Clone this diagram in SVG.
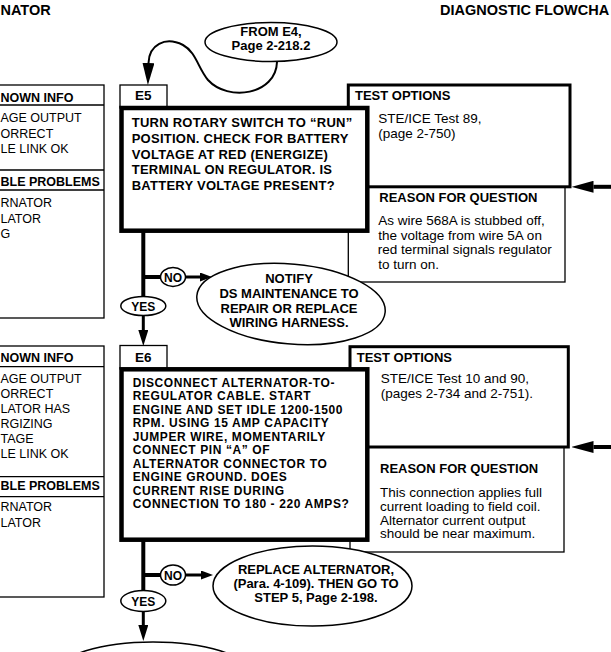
<svg xmlns="http://www.w3.org/2000/svg" width="611" height="652" viewBox="0 0 611 652">
<style>
text{font-family:"Liberation Sans",Arial,Helvetica,sans-serif;fill:#000}
.b{font-weight:bold;font-size:13px}
.q{font-weight:bold;font-size:13px;letter-spacing:0.25px}
.s{font-weight:bold;font-size:12px;letter-spacing:0.6px}
.r{font-size:13.5px}
.lb{font-weight:bold;font-size:12.5px}
.lr{font-size:12.5px}
.h{font-weight:bold;font-size:14.5px}
.c{text-anchor:middle}
.thin{fill:#fff;stroke:#000;stroke-width:1.3}
.med{fill:#fff;stroke:#000;stroke-width:3}
.thick{fill:#fff;stroke:#000;stroke-width:4.5}
.ln{fill:none;stroke:#000;stroke-width:1.3}
.ov{fill:#fff;stroke:#000;stroke-width:1.5}
.w4{fill:none;stroke:#000;stroke-width:4}
.w3{fill:none;stroke:#000;stroke-width:3}
.w2{fill:none;stroke:#000;stroke-width:2}
</style>
<defs>
<marker id="big" markerUnits="userSpaceOnUse" viewBox="0 0 22 12" refX="0" refY="6" markerWidth="22" markerHeight="12" orient="auto"><path d="M0,0 L22,6 L0,12 z"/></marker>
<marker id="mid" markerUnits="userSpaceOnUse" viewBox="0 0 16 10" refX="0" refY="5" markerWidth="16" markerHeight="10" orient="auto"><path d="M0,0 L16,5 L0,10 z"/></marker>
<marker id="sml" markerUnits="userSpaceOnUse" viewBox="0 0 12 9" refX="0" refY="4.5" markerWidth="12" markerHeight="9" orient="auto"><path d="M0,0 L12,4.5 L0,9 z"/></marker>
</defs>
<rect x="0" y="0" width="611" height="652" fill="#fff"/>

<g id="header">
<text class="h" x="0.5" y="15">NATOR</text>
<text class="h" x="440" y="15">DIAGNOSTIC FLOWCHA</text>
</g>

<g id="connectors">
<path class="w2" d="M277,62 C276,95 228,102 208,80 C198,68 196,52 183,45 C165,36 149,45 148.5,63" marker-end="url(#big)"/>
<path class="w4" d="M143.3,231 V297"/>
<path class="w3" d="M143.3,315 V330" marker-end="url(#mid)"/>
<path class="w4" d="M143.3,277 H161"/>
<path class="w3" d="M185,277 H200" marker-end="url(#sml)"/>
<path class="w4" d="M611,186.8 H593.5" marker-end="url(#big)"/>
<path class="w4" d="M611,447 H593.5" marker-end="url(#big)"/>
<path class="w4" d="M143.3,540 V591"/>
<path class="w3" d="M143.3,611 V625" marker-end="url(#mid)"/>
<path class="w4" d="M143.3,575 H161"/>
<path class="w3" d="M185,575 H201" marker-end="url(#sml)"/>
</g>

<g id="from-e4">
<ellipse class="ov" cx="271" cy="42" rx="66" ry="19.5"/>
<text class="b c" x="271" y="35.5">FROM E4,</text>
<text class="b c" x="271" y="49.5">Page 2-218.2</text>
</g>

<g id="known-info-1">
<rect class="thin" x="-5" y="85" width="109" height="233"/>
<path class="ln" d="M-5,105 H104 M-5,170 H104 M-5,190 H104"/>
<text class="lb" x="0.5" y="101.5">NOWN INFO</text>
<text class="lr" x="0.5" y="122">AGE OUTPUT</text>
<text class="lr" x="0.5" y="137.5">ORRECT</text>
<text class="lr" x="0.5" y="153.3">LE LINK  OK</text>
<text class="lb" x="0.5" y="186">BLE PROBLEMS</text>
<text class="lr" x="0.5" y="206.7">RNATOR</text>
<text class="lr" x="0.5" y="222.5">LATOR</text>
<text class="lr" x="0.5" y="238.3">G</text>
</g>

<g id="reason-1">
<rect class="thin" x="348.3" y="187" width="216.7" height="95"/>
<text class="b" x="379.3" y="201.7">REASON FOR QUESTION</text>
<text class="r" x="378.3" y="225">As wire 568A is stubbed off,</text>
<text class="r" x="378.3" y="239.6">the voltage from wire 5A on</text>
<text class="r" x="377.7" y="254.2">red terminal signals regulator</text>
<text class="r" x="378.3" y="268.5">to turn on.</text>
</g>

<g id="test-options-1">
<rect class="med" x="348.3" y="85" width="221.7" height="101.8"/>
<text class="b" x="355" y="100">TEST OPTIONS</text>
<text class="r" x="378.3" y="123.3">STE/ICE Test 89,</text>
<text class="r" x="378.3" y="138.3">(page 2-750)</text>
</g>

<g id="e5">
<rect class="thin" x="120" y="85" width="47" height="23"/>
<text class="b" x="135" y="100" style="font-size:13.5px">E5</text>
<rect class="thick" x="121.5" y="108" width="245.8" height="122.7"/>
<text class="q" x="131.7" y="127">TURN ROTARY SWITCH TO “RUN”</text>
<text class="q" x="131.7" y="142.8">POSITION. CHECK FOR BATTERY</text>
<text class="q" x="131.7" y="158.6">VOLTAGE AT RED (ENERGIZE)</text>
<text class="q" x="131.7" y="174.4">TERMINAL ON REGULATOR. IS</text>
<text class="q" x="131.7" y="190.2">BATTERY VOLTAGE PRESENT?</text>
</g>

<g id="notify">
<ellipse class="ov" cx="291" cy="304" rx="94.5" ry="40" transform="rotate(5 291 304)"/>
<text class="b c" x="289" y="283">NOTIFY</text>
<text class="b c" x="289" y="297.8">DS MAINTENANCE TO</text>
<text class="b c" x="289" y="312.6">REPAIR OR REPLACE</text>
<text class="b c" x="289" y="327.4">WIRING HARNESS.</text>
</g>

<g id="no-1">
<ellipse class="ov" cx="173" cy="277" rx="12.5" ry="9.5"/>
<text class="b c" x="173" y="281.5" style="font-size:12px">NO</text>
</g>
<g id="yes-1">
<ellipse class="ov" cx="143.3" cy="306" rx="22.5" ry="9.5"/>
<text class="b c" x="143.3" y="310.5" style="font-size:12px">YES</text>
</g>

<g id="known-info-2">
<rect class="thin" x="-5" y="346" width="109" height="251"/>
<path class="ln" d="M-5,366.7 H104 M-5,476.7 H104 M-5,496.7 H104"/>
<text class="lb" x="0.5" y="362">NOWN INFO</text>
<text class="lr" x="0.5" y="383.3">AGE OUTPUT</text>
<text class="lr" x="0.5" y="398">ORRECT</text>
<text class="lr" x="0.5" y="413.3">LATOR HAS</text>
<text class="lr" x="0.5" y="428.3">RGIZING</text>
<text class="lr" x="0.5" y="443">TAGE</text>
<text class="lr" x="0.5" y="458.3">LE LINK  OK</text>
<text class="lb" x="0.5" y="490">BLE PROBLEMS</text>
<text class="lr" x="0.5" y="511">RNATOR</text>
<text class="lr" x="0.5" y="527">LATOR</text>
</g>

<g id="reason-2">
<rect class="thin" x="350" y="447" width="214" height="105"/>
<text class="b" x="380" y="473.3">REASON FOR QUESTION</text>
<text class="r" x="380" y="496.7">This connection applies full</text>
<text class="r" x="380" y="510.6">current loading to field coil.</text>
<text class="r" x="380" y="524.5">Alternator current output</text>
<text class="r" x="380" y="538.4">should be near maximum.</text>
</g>

<g id="test-options-2">
<rect class="med" x="350" y="346.7" width="218.3" height="100.3"/>
<text class="b" x="356.7" y="361.7">TEST OPTIONS</text>
<text class="r" x="380.7" y="383.3">STE/ICE Test 10 and 90,</text>
<text class="r" x="380.7" y="398.3">(pages 2-734 and 2-751).</text>
</g>

<g id="e6">
<rect class="thin" x="120" y="345.5" width="47" height="23.5"/>
<text class="b" x="135" y="361.7" style="font-size:13.5px">E6</text>
<rect class="thick" x="121.5" y="369.3" width="245.8" height="170.4"/>
<text class="s" x="132.7" y="387">DISCONNECT ALTERNATOR-TO-</text>
<text class="s" x="132.7" y="400.45">REGULATOR CABLE. START</text>
<text class="s" x="132.7" y="413.9">ENGINE AND SET IDLE 1200-1500</text>
<text class="s" x="132.7" y="427.35">RPM. USING 15 AMP CAPACITY</text>
<text class="s" x="132.7" y="440.8">JUMPER WIRE, MOMENTARILY</text>
<text class="s" x="132.7" y="454.25">CONNECT PIN “A” OF</text>
<text class="s" x="132.7" y="467.7">ALTERNATOR CONNECTOR TO</text>
<text class="s" x="132.7" y="481.15">ENGINE GROUND. DOES</text>
<text class="s" x="132.7" y="494.6">CURRENT RISE DURING</text>
<text class="s" x="132.7" y="508.05">CONNECTION TO 180 - 220 AMPS?</text>
</g>

<g id="replace">
<ellipse class="ov" cx="312.5" cy="586" rx="99.5" ry="40"/>
<text class="b c" x="316" y="574">REPLACE ALTERNATOR,</text>
<text class="b c" x="316" y="588">(Para. 4-109). THEN GO TO</text>
<text class="b c" x="316" y="602">STEP 5, Page 2-198.</text>
</g>

<g id="no-2">
<ellipse class="ov" cx="173" cy="575" rx="12.5" ry="10"/>
<text class="b c" x="173" y="579.5" style="font-size:12px">NO</text>
</g>
<g id="yes-2">
<ellipse class="ov" cx="143.3" cy="601" rx="22.5" ry="10.5"/>
<text class="b c" x="143.3" y="605.5" style="font-size:12px">YES</text>
</g>

<g id="next">
<ellipse class="ov" cx="153" cy="672" rx="95" ry="30"/>
</g>
</svg>
